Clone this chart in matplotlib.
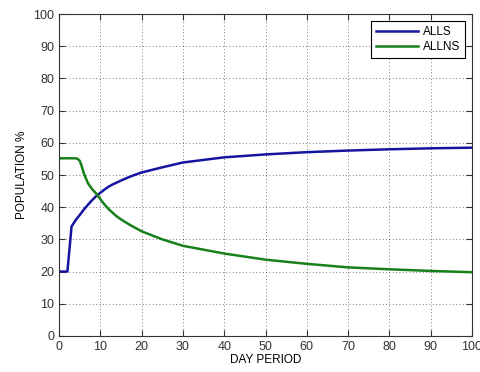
import matplotlib
matplotlib.use('Agg')
import matplotlib.pyplot as plt

plt.rcParams['font.family'] = ['Liberation Sans', 'DejaVu Sans']

# ALLS (blue)
alls_day = [0, 2, 3, 4, 5, 6, 7, 8, 9, 10, 11, 12, 13, 14, 15, 17, 18, 20, 25, 30,
            40, 50, 60, 70, 80, 90, 100]
alls_pct = [20, 20, 34, 36, 37.6, 39.3, 40.8, 42.2, 43.5, 44.5, 45.5, 46.4, 47.1,
            47.7, 48.3, 49.4, 49.9, 50.8, 52.4, 53.9, 55.5, 56.4, 57.1, 57.6, 58,
            58.3, 58.5]

# ALLNS (green)
allns_day = [0, 4, 4.5, 5, 5.5, 6, 7, 8, 9, 10, 11, 12, 13, 14, 15, 17, 18, 20, 25,
             30, 40, 50, 60, 70, 80, 90, 100]
allns_pct = [55.2, 55.2, 55.0, 54.4, 52.6, 50.4, 47.4, 45.6, 44.2, 42.5, 40.8, 39.4,
             38.2, 37.1, 36.2, 34.6, 33.9, 32.5, 30.0, 28.0, 25.6, 23.7, 22.4, 21.3,
             20.7, 20.2, 19.8]

fig = plt.figure(figsize=(4.81, 3.72), dpi=100)
ax = fig.add_axes([0.123, 0.097, 0.858, 0.865])

ax.plot(alls_day, alls_pct, color='#1414a0', linewidth=1.8, label='ALLS')
ax.plot(allns_day, allns_pct, color='#17801a', linewidth=1.8, label='ALLNS')

ax.set_xlim(0, 100)
ax.set_ylim(0, 100)
ax.set_xticks(range(0, 101, 10))
ax.set_yticks(range(0, 101, 10))
ax.grid(True, linestyle=(0, (1, 3)), color='black', linewidth=0.6, alpha=0.7)
ax.tick_params(direction='in', top=True, right=True, length=4, labelsize=9,
               colors='#333333')
for s in ax.spines.values():
    s.set_color('#333333')
    s.set_linewidth(0.8)

ax.set_xlabel('DAY PERIOD', fontsize=8.5, labelpad=1)
ax.set_ylabel('POPULATION %', fontsize=8.5, labelpad=4)

leg = ax.legend(loc='upper right', fontsize=8.5, fancybox=False, framealpha=1,
                edgecolor='black', handlelength=3.6, borderaxespad=0.6,
                labelspacing=0.3, handletextpad=0.4)
leg.get_frame().set_linewidth(0.8)

fig.savefig('out.png', dpi=100)
plt.close(fig)
